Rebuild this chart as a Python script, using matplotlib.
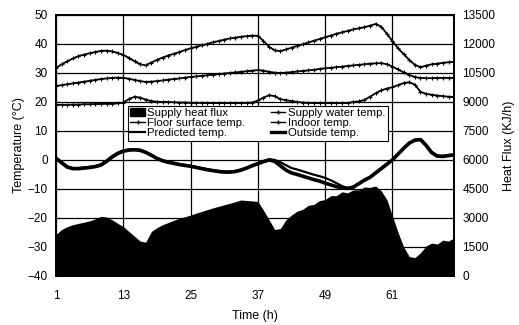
import numpy as np
import matplotlib.pyplot as plt
from matplotlib.patches import Patch
from matplotlib.lines import Line2D

plt.rcParams['font.family'] = ['Liberation Sans', 'DejaVu Sans']

hours = np.arange(1, 73)

# supply heat flux (right axis)
heat_flux = [2150, 2400, 2550, 2650, 2720, 2780, 2850, 2950, 3080, 3050,
             2900, 2720, 2550, 2300, 2050, 1800, 1750, 2300, 2500, 2650,
             2760, 2880, 2980, 3060, 3150, 3250, 3340, 3430, 3520, 3600,
             3680, 3760, 3840, 3930, 3900, 3880, 3850, 3400, 2900, 2400,
             2450, 2900, 3150, 3350, 3450, 3650, 3700, 3900, 3950, 4150,
             4150, 4350, 4300, 4450, 4450, 4600, 4580, 4650, 4400, 3950,
             3100, 2250, 1500, 1000, 950, 1200, 1550, 1700, 1650, 1850,
             1800, 1980]

supply_water = [31.7, 33.0, 34.0, 35.0, 35.8, 36.3, 36.8, 37.2, 37.6, 37.7,
                37.4, 36.9, 36.2, 35.2, 34.0, 33.0, 32.6, 33.6, 34.5, 35.3,
                36.0, 36.6, 37.2, 37.9, 38.5, 39.0, 39.5, 40.0, 40.6, 41.0,
                41.5, 41.9, 42.2, 42.5, 42.7, 42.9, 42.8, 41.0, 39.0, 37.8,
                37.5, 38.1, 38.7, 39.3, 39.9, 40.5, 41.1, 41.7, 42.3, 42.9,
                43.5, 44.0, 44.5, 45.0, 45.4, 45.8, 46.3, 46.9, 46.0, 43.5,
                41.0, 38.5, 36.5, 34.5, 32.8, 32.0, 32.5, 33.0, 33.2, 33.5,
                33.7, 33.8]

floor_surface = [25.5, 25.8, 26.1, 26.4, 26.7, 27.0, 27.3, 27.6, 27.9, 28.1,
                 28.3, 28.4, 28.3, 28.0, 27.6, 27.2, 26.9, 27.0, 27.2, 27.4,
                 27.7, 27.9, 28.1, 28.4, 28.6, 28.8, 29.0, 29.2, 29.4, 29.6,
                 29.8, 30.0, 30.2, 30.4, 30.6, 30.8, 31.0, 30.8, 30.4, 30.1,
                 30.0, 30.1, 30.3, 30.5, 30.7, 30.9, 31.1, 31.4, 31.6, 31.8,
                 32.0, 32.2, 32.4, 32.6, 32.8, 33.0, 33.2, 33.3, 33.4, 33.0,
                 32.2, 31.2, 30.2, 29.3, 28.6, 28.3, 28.2, 28.2, 28.3, 28.3,
                 28.3, 28.3]

indoor = [19.0, 19.0, 19.0, 19.1, 19.1, 19.2, 19.2, 19.3, 19.3, 19.4,
          19.4, 19.5, 19.8, 21.0, 21.8, 21.5, 20.8, 20.3, 20.1, 20.0,
          20.0, 19.9, 19.8, 19.8, 19.7, 19.7, 19.7, 19.6, 19.6, 19.6,
          19.6, 19.6, 19.6, 19.6, 19.7, 19.8, 20.5, 21.5, 22.3, 22.0,
          21.0, 20.6, 20.3, 20.0, 19.8, 19.7, 19.6, 19.6, 19.6, 19.6,
          19.6, 19.6, 19.6, 20.0, 20.2, 20.7, 21.8, 23.0, 24.0, 24.6,
          25.1, 25.8, 26.5, 26.8, 26.0, 23.5, 22.8, 22.5, 22.2, 22.0,
          21.8, 21.7]

outside = [0.5, -1.0, -2.5, -3.0, -3.0, -2.8, -2.6, -2.3, -1.8, -0.5,
           1.0, 2.2, 3.0, 3.4, 3.5, 3.3, 2.6, 1.6, 0.5, -0.3,
           -0.8, -1.2, -1.6, -1.9, -2.2, -2.6, -3.0, -3.4, -3.7, -4.0,
           -4.2, -4.2, -4.0, -3.5, -2.8, -2.0, -1.3, -0.6, 0.0, -0.5,
           -2.0, -3.5, -4.5, -5.0, -5.6, -6.2, -6.8, -7.3, -8.0, -8.6,
           -9.2, -9.6, -9.8, -9.4, -8.2, -7.0, -6.0, -4.5, -3.0, -1.5,
           0.0, 2.0, 4.0, 5.8, 6.8, 7.0, 5.0, 2.5, 1.3, 1.2,
           1.5, 1.7]

predicted = [0.8, -0.7, -2.2, -2.8, -2.8, -2.6, -2.4, -2.1, -1.5, -0.2,
             1.3, 2.5, 3.3, 3.6, 3.7, 3.5, 2.8, 1.8, 0.7, -0.1,
             -0.6, -1.0, -1.4, -1.7, -2.0, -2.4, -2.8, -3.2, -3.5, -3.8,
             -4.0, -4.0, -3.8, -3.3, -2.6, -1.8, -1.1, -0.4, 0.2, 0.0,
             -0.8, -1.8, -2.8, -3.3, -3.9, -4.5, -5.1, -5.6, -6.2, -7.0,
             -8.0, -9.0, -9.7, -9.3, -8.0, -6.8, -5.8, -4.3, -2.8, -1.3,
             0.2, 2.2, 4.2, 6.0, 7.0, 7.2, 5.3, 2.8, 1.5, 1.4,
             1.7, 1.9]

fig = plt.figure(figsize=(5.19, 3.25), dpi=100)
ax = fig.add_axes([0.108, 0.151, 0.767, 0.803])
ax2 = ax.twinx()

# heat flux fill on the right axis, temperatures drawn on top
ax2.fill_between(hours, 0, heat_flux, color='black', lw=0)
ax2.set_ylim(0, 13500)
ax2.set_yticks(np.arange(0, 13501, 1500))
ax.set_zorder(ax2.get_zorder() + 1)
ax.patch.set_visible(False)

ax.plot(hours, supply_water, color='black', lw=1.3, marker='+', ms=3, mew=0.8)
ax.plot(hours, floor_surface, color='black', lw=1.3, marker='+', ms=3, mew=0.8)
ax.plot(hours, indoor, color='black', lw=1.3, marker='+', ms=3, mew=0.8)
ax.plot(hours, predicted, color='black', lw=1.6)
ax.plot(hours, outside, color='black', lw=2.6)

ax.set_xlim(1, 72)
ax.set_ylim(-40, 50)
ax.set_xticks([1, 13, 25, 37, 49, 61])
ax.set_yticks(np.arange(-40, 51, 10))
ax.grid(True, color='black', lw=0.9)

for a in (ax, ax2):
    for s in a.spines.values():
        s.set_linewidth(1.3)
    a.tick_params(direction='in', length=2, width=0.8, labelsize=8.5, pad=6)
ax.tick_params(axis='x', pad=10)

ax.set_xlabel('Time (h)', fontsize=9, labelpad=6)
ax.set_ylabel('Temperature (\u00b0C)', fontsize=9, labelpad=2)
ax2.set_ylabel('Heat Flux (KJ/h)', fontsize=9, labelpad=5)

handles = [
    Patch(facecolor='black', edgecolor='black'),
    Line2D([], [], color='black', lw=1, marker='+', ms=3),
    Line2D([], [], color='black', lw=1.6),
    Line2D([], [], color='black', lw=1, marker='+', ms=3),
    Line2D([], [], color='black', lw=1, marker='+', ms=3),
    Line2D([], [], color='black', lw=2.4),
]
labels = ['Supply heat flux', 'Floor surface temp.', 'Predicted temp.',
          'Supply water temp.', 'Indoor temp.', 'Outside temp.']
leg = ax.legend(handles, labels, ncol=2, loc='upper left',
                bbox_to_anchor=(0.181, 0.651), fontsize=8.2, frameon=True,
                fancybox=False, framealpha=1, edgecolor='black',
                handlelength=1.3, handletextpad=0.2, columnspacing=2.2,
                labelspacing=0.0, borderpad=0.2, borderaxespad=0)
leg.get_frame().set_linewidth(0.8)

plt.savefig('out.png', dpi=100)
